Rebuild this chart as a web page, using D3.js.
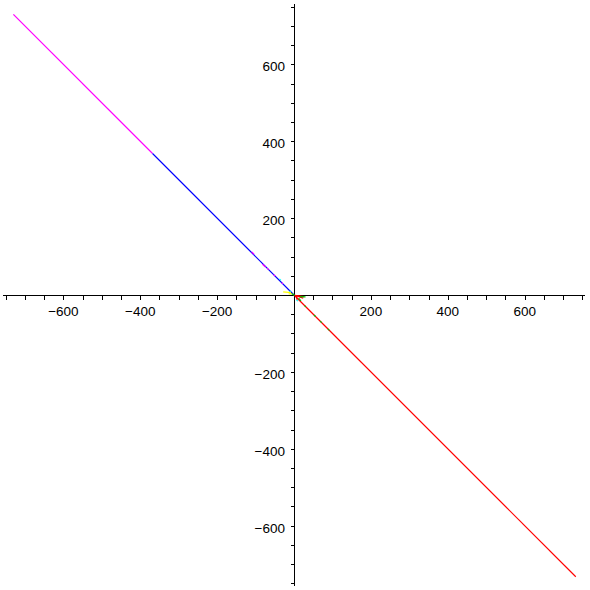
<!DOCTYPE html>
<html><head><meta charset="utf-8">
<script src="https://cdn.jsdelivr.net/npm/d3@7"></script>
<style>body{margin:0;background:#fff}svg{display:block}</style>
</head><body>
<script>
// Data: each series is a list of [x, y] points (plot units)
const magentaMain = [[-730, 730], [-368, 368]];
const magentaBits = [[[-110, 112], [-104, 106]], [[-82, 80], [-74, 73]], [[-70, 70], [-66, 66]], [[-53, 53], [-49, 49]], [[-32, 32], [-29, 29]]];
const blueMain = [[-368, 368], [0, 0]];
const redMain = [[0, 0], [733, -733]];
const redBits = [[[5, -2], [24, -8]], [[6, 0], [8, -12]], [[10, -2], [20, -6]], [[2, -1], [26, -4]]];
const greenBits = [[[-6, 4], [2, -1]], [[12, -8], [18, -15]], [[28, -28], [31, -31]], [[52, -52], [56, -56]], [[68, -68], [72, -72]], [[88, -88], [92, -92]], [[16, -4], [30, -5]]];
const yellowBits = [[[-28, 8], [-8, 6]], [[-14, 3], [-4, 3]]];
const cyanBits = [[[-38, 42], [-34, 38]], [[6, -12], [10, -16]], [[-12, 10], [-8, 8]]];
const tickValues = d3.range(-750, 751, 50);
const labelValues = [-600, -400, -200, 200, 400, 600];

const W = 590, H = 590;
const x = d3.scaleLinear().domain([-757, 757]).range([3, 585]);
const y = d3.scaleLinear().domain([-757, 757]).range([586, 4]);
const svg = d3.select("body").append("svg").attr("width", W).attr("height", H);

const font = "'Liberation Sans', Arial, sans-serif";
const fmt = v => v < 0 ? "\u2212" + Math.abs(v) : String(v);

// Axes
const gx = svg.append("g").attr("transform", `translate(0,${Math.round(y(0)) + 0.5})`);
gx.call(d3.axisBottom(x).tickValues(tickValues).tickSize(4).tickFormat(""));
gx.select(".domain").attr("d", `M${x(-757)},0H${x(757)}`).attr("stroke", "#000");
gx.selectAll(".tick line").attr("stroke", "#000");
const gy = svg.append("g").attr("transform", `translate(${Math.round(x(0)) + 0.5},0)`);
gy.call(d3.axisLeft(y).tickValues(tickValues).tickSize(4).tickFormat(""));
gy.select(".domain").attr("d", `M0,${y(757)}V${y(-757)}`).attr("stroke", "#000");
gy.selectAll(".tick line").attr("stroke", "#000");
svg.selectAll(".tick line, .domain").attr("shape-rendering", "crispEdges");

// Labels
svg.append("g").selectAll("text").data(labelValues).join("text")
  .attr("x", d => x(d)).attr("y", y(0) + 21)
  .attr("text-anchor", "middle").attr("font-family", font).attr("font-size", 13.5)
  .text(fmt);
svg.append("g").selectAll("text").data(labelValues).join("text")
  .attr("x", x(0) - 9).attr("y", d => y(d) + 7)
  .attr("text-anchor", "end").attr("font-family", font).attr("font-size", 13.5)
  .text(fmt);

// Curves
const line = d3.line().x(d => x(d[0])).y(d => y(d[1]));
function draw(list, color) {
  svg.append("g").selectAll("path").data(list).join("path")
    .attr("d", line).attr("fill", "none").attr("stroke", color).attr("stroke-width", 1.2);
}
draw([magentaMain], "#ff00ff");
draw([blueMain], "#0000ff");
draw(magentaBits, "#ff00ff");
draw(cyanBits, "#00ffff");
draw(yellowBits, "#ffff00");
draw([redMain], "#ff0000");
draw(redBits, "#ff0000");
draw(greenBits, "#00c000");
</script>
</body></html>
